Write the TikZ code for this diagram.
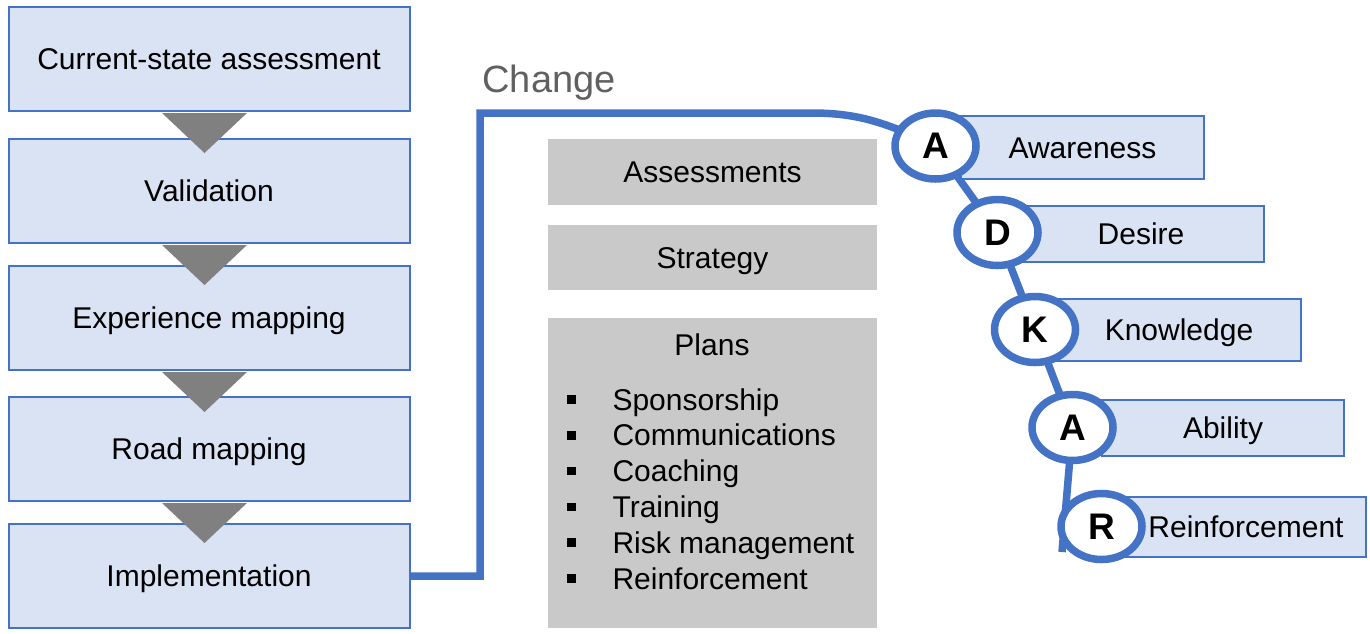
\documentclass[tikz,border=0pt]{standalone}
\usepackage{fontspec}
\setmainfont{Liberation Sans}
\usetikzlibrary{shapes.geometric,backgrounds,calc}
\definecolor{boxblue}{RGB}{218,227,243}
\definecolor{lineblue}{RGB}{68,114,196}
\definecolor{boxgray}{RGB}{201,201,201}
\definecolor{arrowgray}{RGB}{128,128,128}
\definecolor{textgray}{RGB}{96,96,96}
\begin{document}
\begin{tikzpicture}[x=1pt,y=-1pt,
  txt/.style={font=\fontsize{30}{36}\selectfont,text height=21.5pt,text depth=0pt},
  stepbox/.style={txt,draw=lineblue,line width=2pt,fill=boxblue,minimum width=401pt,minimum height=104pt,inner sep=0pt},
  graybox/.style={txt,fill=boxgray,minimum width=329pt,inner sep=0pt},
  adkbox/.style={txt,draw=lineblue,line width=2pt,fill=boxblue,inner sep=0pt},
  letter/.style={ellipse,draw=lineblue,line width=7.5pt,fill=white,minimum width=81pt,minimum height=66pt,inner sep=0pt,font=\fontsize{37}{40}\selectfont\bfseries},
  link/.style={draw=lineblue,line width=7.5pt},
  tri/.style={fill=arrowgray},
  bullet/.style={fill=black,minimum size=8.5pt,inner sep=0pt}]
  \useasboundingbox (0,0) rectangle (1370,633);

  \foreach \t/\y [count=\i] in {Current-state assessment/59,Validation/191,Experience mapping/318,Road mapping/449,Implementation/576}
    \node[stepbox] (s\i) at (209,\y) {\t};
  \foreach \i in {1,...,4}
    \fill[tri] ($(s\i.south)+(-47,1)$) -- ($(s\i.south)+(38,1)$) -- ($(s\i.south)+(-4.5,41)$) -- cycle;

  \node[anchor=base west,text=textgray,font=\fontsize{38}{44}\selectfont] (chg) at (479,92) {Change};

  \node[graybox,minimum height=66pt] (asm) at (712.5,172) {Assessments};
  \node[graybox,minimum height=65pt] (str) at (712.5,257.5) {Strategy};
  \node[graybox,minimum height=310pt] (plans) at (712.5,473) {};
  \node[txt,anchor=base] (plt) at (712,355) {Plans};
  \foreach \t [count=\i] in {Sponsorship,Communications,Coaching,Training,Risk management,Reinforcement} {
    \node[bullet] (pb\i) at (571.5,{399.5+35.8*(\i-1)}) {};
    \node[txt,anchor=base west] (pi\i) at (609,{410+35.8*(\i-1)}) {\t};
  }

  \node[adkbox,minimum width=243pt,minimum height=63pt] (aw) at (1082.5,147.5) {Awareness};
  \node[adkbox,minimum width=246pt,minimum height=56pt] (de) at (1141,234) {Desire};
  \node[adkbox,minimum width=244pt,minimum height=62pt] (kn) at (1179,330) {Knowledge};
  \node[adkbox,minimum width=242pt,minimum height=56pt] (ab) at (1223,428) {Ability};
  \node[adkbox,minimum width=240pt,minimum height=60pt] (re) at (1246,527) {Reinforcement};

  \node[letter] (a1) at (935.5,146) {A};
  \node[letter] (d) at (997.5,232.5) {D};
  \node[letter] (k) at (1035,329.5) {K};
  \node[letter] (a2) at (1072.5,427.5) {A};
  \node[letter] (r) at (1101.5,526.5) {R};

  \coordinate (top) at (480,113);
  \coordinate (bend) at (812,113);
  \coordinate (rend) at (1062,552);
  \begin{scope}[on background layer]
    \draw[link] (s5.east) -| (top) -- (bend) to[out=0,in=155] (a1.center);
    \draw[link] (a1.center) -- (d.center) -- (k.center) -- (a2.center) -- (rend);
  \end{scope}
\end{tikzpicture}
\end{document}
